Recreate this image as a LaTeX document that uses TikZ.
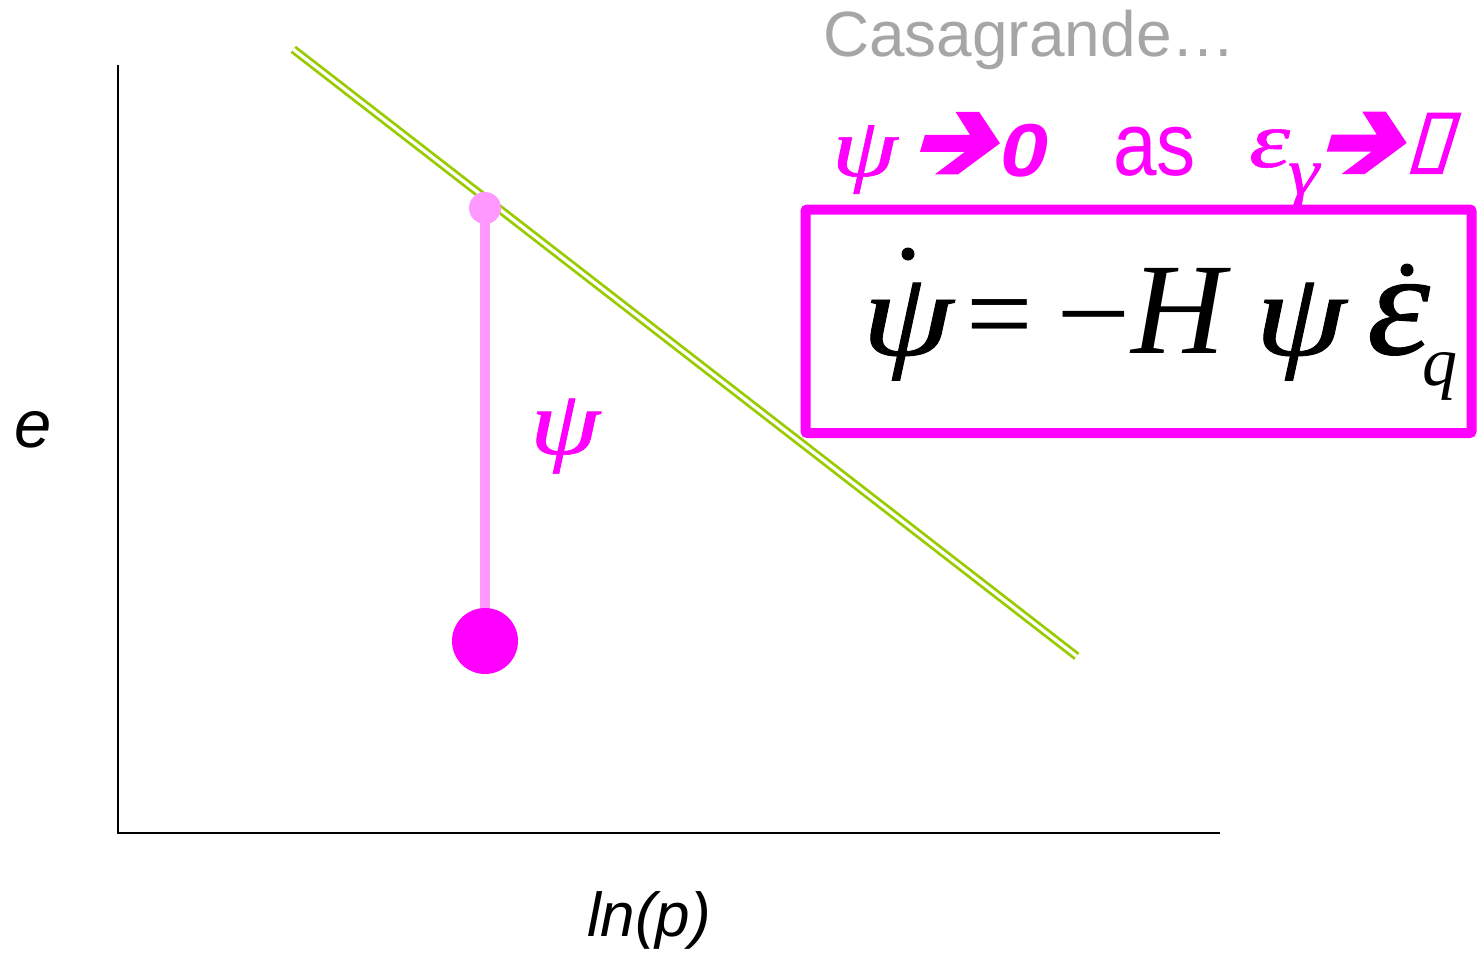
\documentclass[tikz,border=0pt]{standalone}
\usepackage{fontspec}
\setmainfont{Liberation Serif}
\newfontfamily\sansf{Liberation Sans}
\newfontface\symf[FakeBold=0.7]{Liberation Serif Italic}
\definecolor{mag}{HTML}{FF00FF}
\definecolor{lpink}{HTML}{FF99FF}
\definecolor{lgreen}{HTML}{99CC00}
\definecolor{cgray}{HTML}{A6A6A6}
\newcommand{\fsz}[1]{\fontsize{#1}{#1}\selectfont}
\newcommand{\wide}[2]{\scalebox{#1}[1]{#2}}
\begin{document}
\begin{tikzpicture}[x=1pt,y=-1pt,
  txt/.style={inner sep=0pt, outer sep=0pt, anchor=base west},
  axisline/.style={black, line width=2.5pt},
  dotmark/.style={circle, fill=black, inner sep=0pt, minimum size=13pt},
  chev/.pic={\fill[mag] (-44.5,-31.5) -- (-21,-31.5) -- (0,0) -- (-42,31) -- (-65,31) -- (-35,8.5) -- (-80,8.5) -- (-75,-8.5) -- (-30,-8.5) -- cycle;}]
\useasboundingbox (0,0) rectangle (1477,953);
% axes
\coordinate (ytop) at (118,65);
\coordinate (orig) at (118,833);
\coordinate (xend) at (1220,833);
\draw[axisline] (ytop) -- (orig) -- (xend);
% green line
\coordinate (g1) at (293.3,49.3);
\coordinate (g2) at (1076.7,656.3);
\draw[lgreen, line width=2.8pt, double=white, double distance=3.2pt] (g1) -- (g2);
% pink stem
\coordinate (pt) at (485,208);
\coordinate (pb) at (485,641);
\draw[lpink, line width=10pt] (pt) -- (pb);
\node[circle, fill=lpink, inner sep=0pt, minimum size=32pt] (topdot) at (pt) {};
\node[circle, fill=mag, inner sep=0pt, minimum size=66pt] (botdot) at (pb) {};
% labels
\node[txt, anchor=base, font=\sansf\itshape\fsz{67}] (elab) at (33,447) {e};
\node[txt, font=\sansf\itshape\fsz{62}] (lnlab) at (587,936) {ln(p)};
\node[txt, text=mag, font=\symf\fsz{92}] (psilab) at (530,454) {\wide{1.22}{ψ}};
\node[txt, text=cgray, font=\sansf\fsz{64}] (casa) at (823,56) {Casagrande…};
% top line
\node[txt, text=mag, font=\symf\fsz{84}] (psitop) at (832,176) {\wide{1.25}{ψ}};
\pic at (1000,143.3) {chev};
\node[txt, text=mag, font=\sansf\bfseries\itshape\fsz{75}] (zero) at (1000,176) {\wide{1.15}{0}};
\node[txt, text=mag, font=\sansf\fsz{90}] (as) at (1113,175) {\wide{0.87}{as}};
\node[txt, text=mag, font=\symf\fsz{80}] (eps) at (1249,167) {\wide{1.3}{ε}};
\node[txt, text=mag, font=\symf\fsz{66}] (gam) at (1288,194) {\wide{1.2}{γ}};
\pic at (1406.7,143) {chev};
\draw[mag, line width=6pt] (1429.5,115.5) -- (1457.5,115.5) -- (1440.3,171) -- (1413.7,171) -- cycle;
% box
\node[draw=mag, line width=10pt, rounded corners=2pt, minimum width=666pt, minimum height=223.5pt, inner sep=0pt] (box) at (1138.5,321.25) {};
% equation
\node[txt, font=\symf\fsz{120}] (epsi) at (862,355) {\wide{1.22}{ψ}};
\node[dotmark] (d1) at (908,254) {};
\node[txt, font=\fsz{118}] (eq) at (966,353) {=};
\node[txt, font=\fsz{118}] (mi) at (1056,353) {\wide{1.12}{−}};
\node[txt, font=\itshape\fsz{130}] (H) at (1131,353) {H};
\node[txt, font=\symf\fsz{120}] (epsi2) at (1255,355) {\wide{1.22}{ψ}};
\node[txt, font=\symf\fsz{148}] (eeps) at (1367,354) {\wide{1.08}{ε}};
\node[dotmark] (d2) at (1407,270) {};
\node[txt, font=\itshape\fsz{70}] (q) at (1422,385) {q};
\end{tikzpicture}
\end{document}
